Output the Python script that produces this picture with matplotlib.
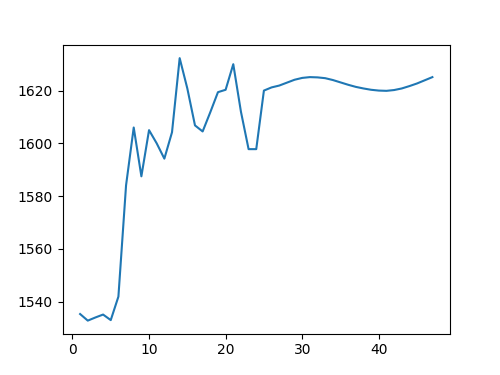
import matplotlib
matplotlib.use("Agg")
import matplotlib.pyplot as plt

# x runs 1..47
steps = list(range(1, 48))
values = [
    1535.3, 1532.8, 1534.0, 1535.1, 1533.0, 1541.9, 1584.1, 1606.0, 1587.5, 1605.0,
    1600.0, 1594.2, 1604.2, 1632.3, 1620.8, 1606.8, 1604.5, 1611.8, 1619.4, 1620.3,
    1630.0, 1612.0, 1597.8, 1597.8, 1620.0, 1621.2, 1621.9, 1623.0, 1624.1, 1624.8,
    1625.1, 1625.0, 1624.7, 1624.0, 1623.1, 1622.2, 1621.4, 1620.8, 1620.3, 1620.0,
    1619.9, 1620.2, 1620.8, 1621.7, 1622.7, 1623.9, 1625.1,
]

fig, ax = plt.subplots(figsize=(5, 3.75), dpi=100)
ax.plot(steps, values)

fig.savefig("out.png")
